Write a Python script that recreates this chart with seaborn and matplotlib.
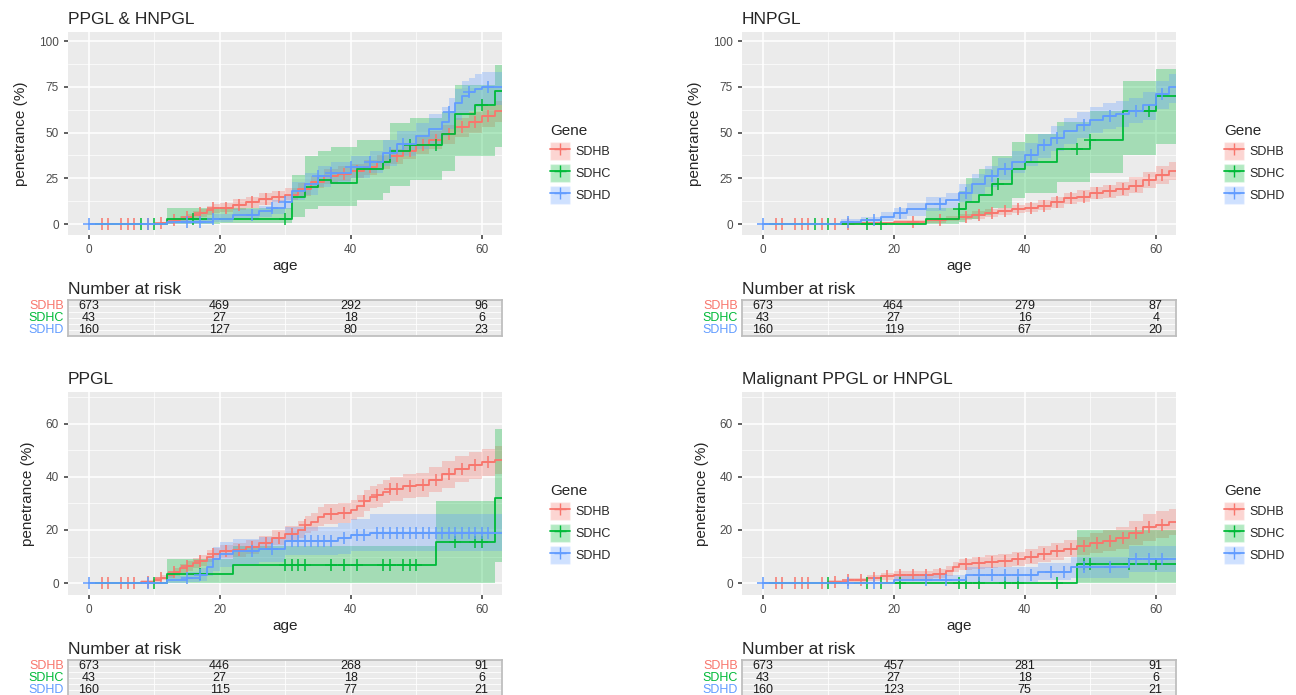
import numpy as np
import matplotlib
matplotlib.use("Agg")
import matplotlib.pyplot as plt
import seaborn as sns
from matplotlib.patches import Patch
from matplotlib.lines import Line2D

genes = ["SDHB", "SDHC", "SDHD"]
colors = {"SDHB": "#F8766D", "SDHC": "#00BA38", "SDHD": "#619CFF"}
risk_ages = [0, 20, 40, 60]

# ---- PPGL & HNPGL ----
p1_sdhb_age = [0, 11, 12, 13, 14, 15, 16, 17, 18, 19, 20, 22, 24, 26, 28, 30, 32, 34, 36, 38, 40, 42, 44, 46, 48, 50, 52, 54, 56, 58, 60, 62]
p1_sdhb_val = [0, 0.5, 1, 2, 3, 4, 5, 6, 7.5, 8.5, 9, 10.5, 12, 13.5, 15, 16, 19, 23, 26, 27.5, 29, 31, 34, 37, 40, 43, 46, 49, 53, 56, 59, 62]
p1_sdhb_lo = [0, 0, 0.2, 0.8, 1.5, 2.3, 3, 4, 5, 6, 6.5, 7.5, 9, 10.5, 12, 13, 15.5, 19.5, 22, 23.5, 25, 27, 30, 33, 35.5, 38.5, 41, 44, 47.5, 50, 53, 56]
p1_sdhb_hi = [0, 1, 2, 3.3, 4.5, 5.5, 7, 8, 10, 11, 11.5, 13.5, 15, 17, 18, 19.5, 22.5, 26.5, 30, 31.5, 33, 35, 38, 41, 44.5, 47.5, 51, 54, 58, 61, 64.5, 67]
p1_sdhc_age = [0, 12, 20, 31, 33, 35, 37, 41, 45, 46, 49, 54, 56, 59, 62]
p1_sdhc_val = [0, 3, 3, 15, 20, 24, 22.5, 30, 34, 40, 43, 49, 60, 65, 73]
p1_sdhc_lo = [0, 0, 0.5, 4, 8, 10, 10, 13, 17, 21, 24, 29, 37, 37, 42]
p1_sdhc_hi = [0, 9, 9, 27, 37, 40, 42, 46, 46, 55, 58, 61, 76, 76, 87]
p1_sdhd_age = [0, 12, 19, 22, 26, 28, 30, 31, 33, 35, 37, 40, 43, 45, 47, 50, 52, 54, 55, 56, 57, 58, 59, 60, 62]
p1_sdhd_val = [0, 1, 3, 5, 7, 9, 12, 18, 22, 26, 28, 31, 34, 39, 44, 48, 52, 56, 61, 66, 70, 72, 74, 75, 75]
p1_sdhd_lo = [0, 0, 1, 2.5, 4, 5.5, 8, 13, 16, 20, 22, 25, 28, 32, 37, 41, 44, 48, 52, 57, 60, 62, 64, 65, 65]
p1_sdhd_hi = [0, 3, 5.5, 8, 10, 13, 16, 23, 28, 32, 34, 37, 40, 46, 51, 55, 60, 64, 69, 74, 78, 80, 82, 83, 83]
p1_cens = {"SDHB": [2, 3, 5, 6, 7, 9, 11, 13, 15, 17, 19, 21, 23, 25, 27, 29, 33, 35, 37, 39, 41, 43, 45, 47, 49, 51, 53, 55, 57, 59, 61],
           "SDHC": [8, 10, 16, 30, 45, 49, 53, 60],
           "SDHD": [0, 9, 15, 17, 19, 25, 28, 30, 35, 37, 40, 43, 46, 48, 55, 58, 61]}
p1_risk = {"SDHB": [673, 469, 292, 96], "SDHC": [43, 27, 18, 6], "SDHD": [160, 127, 80, 23]}

# ---- HNPGL ----
p2_sdhb_age = [0, 14, 20, 25, 28, 30, 32, 34, 36, 38, 40, 42, 44, 46, 48, 50, 52, 54, 56, 58, 60, 62]
p2_sdhb_val = [0, 0.5, 1, 2, 3, 4, 5, 6, 7, 8, 9, 10, 12, 14, 15, 17, 18, 19, 21, 24, 27, 29]
p2_sdhb_lo = [0, 0, 0.2, 0.8, 1.5, 2.3, 3, 4, 5, 6, 6.5, 7.5, 9, 11, 12, 13.5, 14.5, 15.5, 17, 19.5, 22, 24]
p2_sdhb_hi = [0, 1, 2, 3.2, 4.5, 5.5, 7, 8, 9, 10.5, 11.5, 13, 15, 17, 18.5, 20.5, 21.5, 23, 25.5, 28.5, 32, 34]
p2_sdhc_age = [0, 25, 30, 31, 33, 35, 38, 40, 44, 45, 50, 55, 60, 62]
p2_sdhc_val = [0, 3, 8, 12, 16, 22, 30, 34, 34, 41, 46, 62, 70, 70]
p2_sdhc_lo = [0, 0, 1, 3, 5, 9, 14, 17, 17, 23, 28, 38, 44, 44]
p2_sdhc_hi = [0, 9, 18, 25, 30, 37, 45, 49, 49, 56, 62, 78, 85, 85]
p2_sdhd_age = [0, 12, 15, 18, 20, 22, 25, 28, 30, 32, 34, 36, 38, 40, 42, 44, 46, 48, 50, 52, 54, 56, 58, 60, 62]
p2_sdhd_val = [0, 1, 2, 4, 6, 8, 11, 13, 17, 22, 26, 30, 34, 38, 43, 47, 51, 54, 57, 59, 60, 62, 65, 71, 75]
p2_sdhd_lo = [0, 0, 0.5, 1.5, 3, 4.5, 7, 9, 12, 16.5, 20, 24, 28, 32, 36, 40, 44, 47, 50, 52, 53, 55, 57, 63, 66]
p2_sdhd_hi = [0, 2.5, 4, 6.5, 9, 11.5, 15, 17, 22, 27.5, 32, 36, 40, 44.5, 49, 53.5, 58, 61, 64, 66, 67, 69, 72, 78, 82]
p2_cens = {"SDHB": [2, 3, 5, 6, 7, 9, 11, 13, 23, 27, 31, 33, 35, 37, 39, 41, 43, 45, 47, 49, 51, 53, 55, 57, 59, 61],
           "SDHC": [8, 10, 16, 18, 30, 36, 48, 50, 59],
           "SDHD": [0, 13, 17, 21, 27, 31, 35, 37, 41, 43, 45, 49, 53, 57, 61]}
p2_risk = {"SDHB": [673, 464, 279, 87], "SDHC": [43, 27, 16, 4], "SDHD": [160, 119, 67, 20]}

# ---- PPGL ----
p3_sdhb_age = [0, 8, 10, 11, 12, 13, 14, 15, 16, 17, 18, 19, 20, 22, 24, 26, 28, 30, 32, 33, 34, 35, 36, 38, 40, 41, 42, 43, 44, 45, 46, 48, 50, 52, 54, 56, 58, 60, 62]
p3_sdhb_val = [0, 0.5, 1, 2, 3, 4, 5.5, 6.5, 7.5, 8.5, 10, 11, 12, 12.5, 13.5, 15, 17, 18.5, 20, 22, 23, 25, 26, 26.5, 27.5, 29, 31, 32.5, 33, 34.5, 35.5, 36.5, 37, 39, 41, 43, 44.5, 45.5, 46.5]
p3_sdhb_lo = [0, 0, 0.3, 1, 1.8, 2.6, 3.8, 4.7, 5.5, 6.5, 7.8, 8.7, 9.6, 10, 11, 12.3, 14.2, 15.6, 17, 18.8, 19.7, 21.5, 22.4, 22.8, 23.7, 25, 27, 28.4, 28.8, 30.2, 31.1, 32, 32.4, 34.2, 36, 38, 39.4, 40.2, 41]
p3_sdhb_hi = [0, 1, 1.8, 3, 4.3, 5.5, 7.2, 8.3, 9.5, 10.6, 12.3, 13.4, 14.5, 15, 16.1, 17.8, 20, 21.6, 23.2, 25.3, 26.4, 28.6, 29.7, 30.3, 31.4, 33, 35.1, 36.7, 37.2, 38.8, 39.9, 41, 41.5, 43.7, 45.9, 47.9, 49.5, 50.6, 51.5]
p3_sdhc_age = [0, 10, 12, 22, 53, 62]
p3_sdhc_val = [0, 0, 3.3, 6.7, 15.4, 32]
p3_sdhc_lo = [0, 0, 0, 0, 0, 8]
p3_sdhc_hi = [0, 0, 9, 14, 31, 58]
p3_sdhd_age = [0, 12, 15, 17, 18, 19, 20, 22, 26, 30, 38, 40, 43, 62]
p3_sdhd_val = [0, 1, 2, 3, 6, 9, 11, 12, 13, 16, 17, 18, 19, 19]
p3_sdhd_lo = [0, 0, 0.3, 0.8, 2.5, 4.5, 6, 7, 8, 10.5, 11, 12, 12, 12]
p3_sdhd_hi = [0, 2.5, 4, 5.5, 9.5, 13.5, 15.5, 16.5, 17.5, 21, 22.5, 24, 26, 26]
p3_cens = {"SDHB": [2, 3, 5, 6, 7, 9, 11, 13, 15, 17, 19, 21, 23, 25, 27, 29, 31, 33, 37, 39, 42, 44, 46, 47, 49, 51, 53, 55, 57, 59, 61],
           "SDHC": [10, 17, 30, 31, 32, 33, 37, 39, 41, 45, 46, 48, 49, 50, 56, 59, 60],
           "SDHD": [0, 9, 15, 17, 25, 28, 31, 32, 33, 34, 35, 36, 37, 39, 41, 42, 44, 45, 46, 47, 48, 49, 50, 51, 52, 53, 54, 55, 56, 57, 58, 59, 60, 61]}
p3_risk = {"SDHB": [673, 446, 268, 91], "SDHC": [43, 27, 18, 6], "SDHD": [160, 115, 77, 21]}

# ---- Malignant PPGL or HNPGL ----
p4_sdhb_age = [0, 10, 13, 16, 18, 20, 26, 28, 29, 30, 32, 34, 36, 38, 40, 42, 44, 46, 48, 50, 52, 54, 56, 58, 60, 62]
p4_sdhb_val = [0, 0.5, 1, 2, 2.5, 3, 3.5, 4.5, 6, 7, 7.5, 8, 8.5, 9, 10, 11, 12, 13, 14, 15, 16, 17, 19, 21, 22, 23]
p4_sdhb_lo = [0, 0, 0.2, 0.8, 1.2, 1.6, 2, 2.8, 4, 4.8, 5.2, 5.6, 6, 6.4, 7.2, 8, 8.8, 9.7, 10.5, 11.3, 12, 12.8, 14.5, 16, 17, 18]
p4_sdhb_hi = [0, 1, 2, 3.2, 3.9, 4.5, 5.2, 6.3, 8, 9.2, 9.8, 10.5, 11, 11.7, 12.8, 14, 15.1, 16.3, 17.5, 18.7, 19.9, 21.1, 23.5, 26, 27, 28]
p4_sdhc_age = [0, 48, 62]
p4_sdhc_val = [0, 7, 7]
p4_sdhc_lo = [0, 0, 0]
p4_sdhc_hi = [0, 20, 20]
p4_sdhd_age = [0, 20, 31, 42, 47, 56, 62]
p4_sdhd_val = [0, 1, 3, 4, 6, 9, 9]
p4_sdhd_lo = [0, 0, 0.5, 1, 2, 4, 4]
p4_sdhd_hi = [0, 3, 6, 7.5, 10, 14, 14]
p4_cens = {"SDHB": [2, 3, 5, 6, 7, 9, 11, 13, 15, 17, 19, 21, 23, 25, 27, 31, 33, 35, 37, 39, 41, 43, 45, 47, 49, 51, 53, 55, 57, 59, 61],
           "SDHC": [10, 16, 18, 21, 30, 31, 33, 37, 39, 45, 49, 50, 56, 60],
           "SDHD": [0, 13, 17, 25, 28, 33, 35, 37, 39, 41, 44, 46, 49, 53, 57, 59, 61]}
p4_risk = {"SDHB": [673, 457, 281, 91], "SDHC": [43, 27, 18, 6], "SDHD": [160, 123, 75, 21]}

panels = [
    ("PPGL & HNPGL", [(p1_sdhb_age, p1_sdhb_val, p1_sdhb_lo, p1_sdhb_hi), (p1_sdhc_age, p1_sdhc_val, p1_sdhc_lo, p1_sdhc_hi), (p1_sdhd_age, p1_sdhd_val, p1_sdhd_lo, p1_sdhd_hi)], p1_cens, p1_risk, 100),
    ("HNPGL", [(p2_sdhb_age, p2_sdhb_val, p2_sdhb_lo, p2_sdhb_hi), (p2_sdhc_age, p2_sdhc_val, p2_sdhc_lo, p2_sdhc_hi), (p2_sdhd_age, p2_sdhd_val, p2_sdhd_lo, p2_sdhd_hi)], p2_cens, p2_risk, 100),
    ("PPGL", [(p3_sdhb_age, p3_sdhb_val, p3_sdhb_lo, p3_sdhb_hi), (p3_sdhc_age, p3_sdhc_val, p3_sdhc_lo, p3_sdhc_hi), (p3_sdhd_age, p3_sdhd_val, p3_sdhd_lo, p3_sdhd_hi)], p3_cens, p3_risk, 60),
    ("Malignant PPGL or HNPGL", [(p4_sdhb_age, p4_sdhb_val, p4_sdhb_lo, p4_sdhb_hi), (p4_sdhc_age, p4_sdhc_val, p4_sdhc_lo, p4_sdhc_hi), (p4_sdhd_age, p4_sdhd_val, p4_sdhd_lo, p4_sdhd_hi)], p4_cens, p4_risk, 60),
]

sns.set_theme(style="darkgrid", rc={"axes.facecolor": "#EBEBEB", "grid.color": "white"})
plt.rcParams["font.family"] = ["Liberation Sans", "DejaVu Sans"]

fig = plt.figure(figsize=(12.96, 6.95), dpi=100)
W, H = 1296, 695
XMAX = 63.1


def ext(v):
    # repeat last value so the step runs to the right edge
    return list(v) + [v[-1]]


def step_at(age, ages, vals):
    i = np.searchsorted(ages, age, side="right") - 1
    return vals[max(i, 0)]


for k, (title, series, cens, risk, top) in enumerate(panels):
    col, row = k % 2, k // 2
    x0 = 68 if col == 0 else 742
    y0 = 32 if row == 0 else 392
    ax = fig.add_axes([x0 / W, 1 - (y0 + 203) / H, 434 / W, 203 / H])
    for g, (a, v, lo, hi) in zip(genes, series):
        xs = list(a) + [XMAX]
        ax.fill_between(xs, ext(lo), ext(hi), step="post", color=colors[g], alpha=0.3, lw=0)
        ax.step(xs, ext(v), where="post", color=colors[g], lw=1.3)
        cy = [step_at(c, a, v) for c in cens[g]]
        ax.plot(cens[g], cy, ls="none", marker="+", ms=8, mew=1.1, color=colors[g])
    ax.set_xlim(-3.15, XMAX)
    if top == 100:
        ax.set_ylim(-6, 105)
        ax.set_yticks([0, 25, 50, 75, 100])
        ax.set_yticks([12.5, 37.5, 62.5, 87.5], minor=True)
    else:
        ax.set_ylim(-4.5, 72)
        ax.set_yticks([0, 20, 40, 60])
        ax.set_yticks([10, 30, 50, 70], minor=True)
    ax.set_xticks([0, 20, 40, 60])
    ax.set_xticks([10, 30, 50], minor=True)
    ax.grid(which="major", color="white", lw=1.1)
    ax.grid(which="minor", color="white", lw=0.5)
    ax.tick_params(axis="both", which="major", labelsize=8.5, colors="#4D4D4D", length=3, left=True, bottom=True)
    ax.tick_params(which="minor", length=0)
    ax.set_xlabel("age", fontsize=11, labelpad=2)
    ax.set_ylabel("penetrance (%)", fontsize=11, labelpad=8)
    ax.set_title(title, loc="left", fontsize=12.5, pad=6)
    for s in ax.spines.values():
        s.set_visible(False)

    handles = [(Patch(facecolor=colors[g], alpha=0.3), Line2D([], [], color=colors[g], marker="+", ms=8, lw=1.3)) for g in genes]
    ax.legend(handles, genes, title="Gene", loc="center left", bbox_to_anchor=(1.1, 0.35), frameon=False,
              fontsize=9, title_fontsize=11, handlelength=1.6, handleheight=1.8, handletextpad=0.4,
              labelspacing=0.35, borderaxespad=0, alignment="left")

    # risk table
    ry0 = 300 if row == 0 else 660
    tx = fig.add_axes([x0 / W, 1 - (ry0 + 36) / H, 434 / W, 36 / H])
    tx.set_xlim(-3.15, XMAX)
    tx.set_ylim(-0.5, 2.5)
    tx.set_xticks([0, 20, 40, 60])
    tx.set_xticks([10, 30, 50], minor=True)
    tx.set_yticks([0, 1, 2])
    tx.set_yticks([0.5, 1.5], minor=True)
    tx.set_xticklabels([])
    tx.set_yticklabels([])
    tx.tick_params(length=0, which="both")
    tx.grid(which="both", color="white", lw=0.6)
    for s in tx.spines.values():
        s.set_color("#BDBDBD")
    for j, g in enumerate(genes):
        yy = 2 - j
        for ra, n in zip(risk_ages, risk[g]):
            tx.text(ra, yy, str(n), ha="center", va="center", fontsize=9, color="#1A1A1A")
        tx.text(-0.01, yy, g, transform=tx.get_yaxis_transform(), ha="right", va="center", fontsize=9, color=colors[g])
    tx.set_title("Number at risk", loc="left", fontsize=12.5, pad=4)

fig.savefig("out.png", dpi=100)
